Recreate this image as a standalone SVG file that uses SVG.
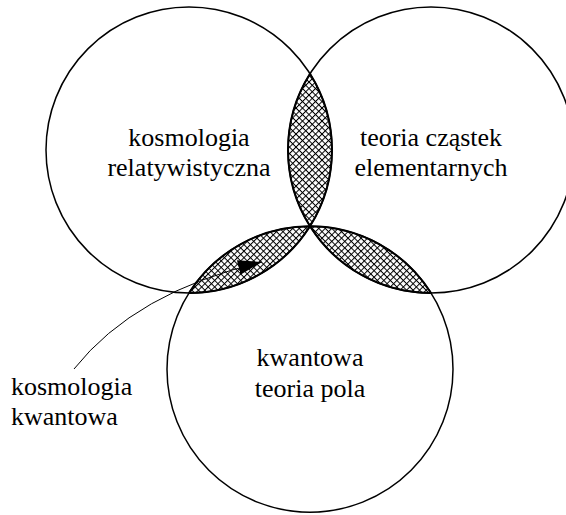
<svg xmlns="http://www.w3.org/2000/svg" width="566" height="515" viewBox="0 0 566 515">
  <style>
    .ring { fill: none; stroke: #000; stroke-width: 1.5; }
    .lens { fill: url(#crosshatch); stroke: #000; stroke-width: 2; stroke-linejoin: round; }
    .mid { text-anchor: middle; }
    .leader { fill: none; stroke: #000; stroke-width: 1; }
  </style>
  <defs>
    <!-- diagonal cross-hatch for the overlap regions -->
    <pattern id="crosshatch" patternUnits="userSpaceOnUse" width="4.6" height="4.6" patternTransform="rotate(45)">
      <rect x="0" y="0" width="4.6" height="4.6" fill="#fff"/>
      <rect x="0" y="0" width="4.6" height="1" fill="#000"/>
      <rect x="0" y="0" width="1" height="4.6" fill="#000"/>
    </pattern>
    <marker id="arrowhead" markerUnits="userSpaceOnUse" viewBox="0 0 24 15" refX="24" refY="7.5" markerWidth="24" markerHeight="15" orient="auto">
      <path d="M0,0 L24,7.5 L0,15 Z" fill="#000"/>
    </marker>
  </defs>

  <rect width="566" height="515" fill="#fff"/>

  <!-- overlap regions -->
  <g id="overlap-top">
    <path class="lens" d="M310,73.8 A143,143 0 0 1 310,226.2 A143,143 0 0 1 310,73.8 Z"/>
  </g>
  <g id="overlap-left">
    <path class="lens" d="M310,226.2 A143,143 0 0 1 189,293 A143,143 0 0 1 310,226.2 Z"/>
  </g>
  <g id="overlap-right">
    <path class="lens" d="M310,226.2 A143,143 0 0 1 431,293 A143,143 0 0 1 310,226.2 Z"/>
  </g>

  <g font-family="'Liberation Serif', 'Times New Roman', Times, serif" font-size="26" fill="#000">
    <!-- the three fields -->
    <g id="relativistic-cosmology">
      <circle class="ring" cx="189" cy="150" r="143"/>
      <text class="mid" x="189" y="145.5">kosmologia</text>
      <text class="mid" x="189" y="175.5">relatywistyczna</text>
    </g>
    <g id="particle-theory">
      <circle class="ring" cx="431" cy="150" r="143"/>
      <text class="mid" x="431" y="145.5">teoria cząstek</text>
      <text class="mid" x="431" y="175.5">elementarnych</text>
    </g>
    <g id="quantum-field-theory">
      <circle class="ring" cx="310" cy="369.2" r="143"/>
      <text class="mid" x="310" y="365.5">kwantowa</text>
      <text class="mid" x="310" y="396.5">teoria pola</text>
    </g>

    <!-- callout label -->
    <g id="quantum-cosmology">
      <text x="11" y="395">kosmologia</text>
      <text x="11" y="425">kwantowa</text>
    </g>
  </g>

  <g id="connectors">
    <path class="leader" d="M74,369 Q135,292 262,262" marker-end="url(#arrowhead)"/>
  </g>
</svg>
